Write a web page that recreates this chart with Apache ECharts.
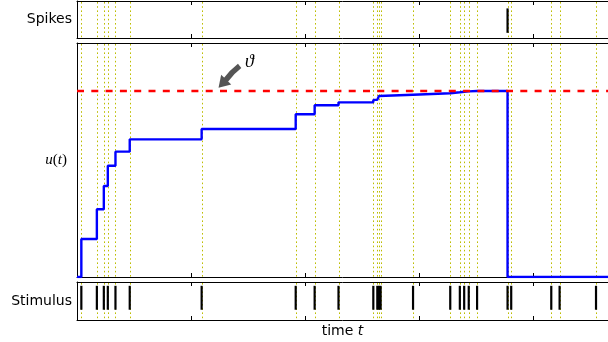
<!DOCTYPE html>
<html><head><meta charset="utf-8">
<script src="https://cdn.jsdelivr.net/npm/echarts/dist/echarts.min.js"></script>
<style>html,body{margin:0;padding:0;background:#fff}#c{width:608px;height:342px}</style>
</head><body><div id="c"></div>
<script>
// ---- data ----
const stimulusTimes = [0.038, 0.174, 0.235, 0.270, 0.337, 0.462, 1.092, 1.916, 2.082, 2.291,
  2.596, 2.631, 2.645, 2.660, 2.944, 3.270, 3.354, 3.392, 3.432, 3.505, 3.772, 3.804,
  4.155, 4.228, 4.547];
const spikeTimes = [3.772];
const potentialTimes = [0, 0.038, 0.174, 0.235, 0.270, 0.337, 0.462, 1.092, 1.916, 2.082, 2.291,
  2.596, 2.631, 2.645, 2.660, 2.944, 3.270, 3.354, 3.392, 3.432, 3.505, 3.772, 4.652];
const potentialValues = [0, 0.204, 0.364, 0.489, 0.598, 0.674, 0.740, 0.796, 0.875, 0.923, 0.939,
  0.952, 0.961, 0.973, 0.980, 0.988, 0.993, 0.996, 0.998, 1.0, 1.0, 0, 0];
const threshold = 1.0;
const timeRange = [0, 4.652];
const potentialRange = [0, 1.258];
const panelLabels = ['Spikes', 'u(t)', 'Stimulus'];
const timeLabel = 'time t';
const thresholdSymbol = 'ϑ';

// ---- layout / style ----
const L = 77, W = 534;
const grids = [
  {left: L, top: 1, width: W, height: 37},
  {left: L, top: 43, width: W, height: 234},
  {left: L, top: 282, width: W, height: 38}
];
const spikeBar = [0.14, 0.8];
const stimBar = [0.27, 0.9];
const YELLOW = '#bdbd00';
const FONT = 'DejaVu Sans';

function xAxes(gi) {
  const base = {
    type: 'value', gridIndex: gi, min: timeRange[0], max: timeRange[1], interval: 1,
    axisLine: {show: true, onZero: false, lineStyle: {color: '#000', width: 1}},
    axisTick: {show: true, inside: true, length: 4, lineStyle: {color: '#000', width: 1}},
    axisLabel: {show: false}, splitLine: {show: false}
  };
  return [Object.assign({position: 'bottom'}, base), Object.assign({position: 'top'}, base)];
}
const xAxis = [].concat(xAxes(0), xAxes(1), xAxes(2));
xAxis[4].name = '{n|time }{i|t}';
xAxis[4].nameLocation = 'middle';
xAxis[4].nameGap = 4;
xAxis[4].nameTextStyle = {
  rich: {
    n: {fontFamily: FONT, fontSize: 14, color: '#000'},
    i: {fontFamily: FONT, fontStyle: 'italic', fontSize: 14, color: '#000'}
  }
};

function yAxisFor(gi, range, name, gap, nts) {
  return {
    type: 'value', gridIndex: gi, min: range[0], max: range[1], position: 'left',
    axisLine: {show: true, onZero: false, lineStyle: {color: '#000', width: 1}},
    axisTick: {show: false}, axisLabel: {show: false}, splitLine: {show: false},
    name: name, nameLocation: 'middle', nameRotate: 0, nameGap: gap, nameTextStyle: nts
  };
}
const plainName = {fontFamily: FONT, fontSize: 14, color: '#000'};
const yAxis = [
  yAxisFor(0, [0, 1], panelLabels[0], 5, plainName),
  yAxisFor(1, potentialRange, '{i|u}{r|(}{i|t}{r|)}', 10, {
    rich: {
      i: {fontFamily: 'Liberation Serif', fontStyle: 'italic', fontSize: 15, color: '#000'},
      r: {fontFamily: 'Liberation Serif', fontSize: 15, color: '#000'}
    }
  }),
  yAxisFor(2, [0, 1], panelLabels[2], 5, plainName)
];

function dottedSeries(xi, yi) {
  return {
    type: 'custom', xAxisIndex: xi, yAxisIndex: yi, z: 1, silent: true,
    data: stimulusTimes.map(t => [t]),
    encode: {x: 0},
    renderItem: function (params, api) {
      const cs = params.coordSys;
      const x = Math.round(api.coord([api.value(0), 0])[0]) + 0.5;
      return {type: 'line', shape: {x1: x, y1: cs.y + 1, x2: x, y2: cs.y + cs.height},
        style: {stroke: YELLOW, lineWidth: 1, lineDash: [1.6, 2.6]}};
    }
  };
}
function eventSeries(times, xi, yi, bar) {
  return {
    type: 'custom', xAxisIndex: xi, yAxisIndex: yi, z: 5, silent: true,
    data: times.map(t => [t]),
    encode: {x: 0},
    renderItem: function (params, api) {
      const a = api.coord([api.value(0), bar[0]]);
      const b = api.coord([api.value(0), bar[1]]);
      return {type: 'line', shape: {x1: a[0], y1: a[1], x2: b[0], y2: b[1]},
        style: {stroke: '#000', lineWidth: 2.2}};
    }
  };
}

const option = {
  animation: false,
  backgroundColor: '#fff',
  grid: grids,
  xAxis: xAxis,
  yAxis: yAxis,
  series: [
    dottedSeries(0, 0), dottedSeries(2, 1), dottedSeries(4, 2),
    eventSeries(spikeTimes, 0, 0, spikeBar),
    eventSeries(stimulusTimes, 4, 2, stimBar),
    {
      type: 'line', xAxisIndex: 2, yAxisIndex: 1, step: 'end', z: 3,
      data: potentialTimes.map((t, i) => [t, potentialValues[i]]),
      symbol: 'none', lineStyle: {color: '#0000ff', width: 2.4}, silent: true
    },
    {
      type: 'line', xAxisIndex: 2, yAxisIndex: 1, z: 4,
      data: [[timeRange[0], threshold], [timeRange[1], threshold]],
      symbol: 'none', lineStyle: {color: '#ff0000', width: 2.4, type: [7, 7.3]}, silent: true
    }
  ]
};

const chart = echarts.init(document.getElementById('c'), null, {renderer: 'canvas'});
chart.setOption(option);

// annotation arrow pointing at the threshold line
const arrowTail = chart.convertToPixel({xAxisIndex: 2, yAxisIndex: 1}, [1.425, threshold + 0.135]);
const arrowTip = chart.convertToPixel({xAxisIndex: 2, yAxisIndex: 1}, [1.240, threshold + 0.018]);
const labelPos = chart.convertToPixel({xAxisIndex: 2, yAxisIndex: 1}, [1.51, threshold + 0.155]);
(function () {
  const dx = arrowTip[0] - arrowTail[0], dy = arrowTip[1] - arrowTail[1];
  const len = Math.hypot(dx, dy);
  const ux = dx / len, uy = dy / len, nx = -uy, ny = ux;
  const hl = 11, hw = 7, sw = 2.8;
  const bx = arrowTip[0] - ux * hl, by = arrowTip[1] - uy * hl;
  const mx = (arrowTail[0] + bx) / 2 + nx * 1.5, my = (arrowTail[1] + by) / 2 + ny * 1.5;
  chart.setOption({
    graphic: [
      {type: 'bezierCurve', silent: true, z: 10,
        shape: {x1: arrowTail[0], y1: arrowTail[1], x2: bx + ux * 1, y2: by + uy * 1, cpx1: mx, cpy1: my},
        style: {stroke: '#555555', lineWidth: sw * 2, fill: null}},
      {type: 'polygon', silent: true, z: 10,
        shape: {points: [[arrowTip[0], arrowTip[1]], [bx + nx * hw, by + ny * hw], [bx - nx * hw, by - ny * hw]]},
        style: {fill: '#555555'}},
      {type: 'text', silent: true, z: 10, x: labelPos[0], y: labelPos[1],
        style: {text: thresholdSymbol, font: 'italic 18px "Liberation Serif"', fill: '#000',
          align: 'center', verticalAlign: 'middle'}}
    ]
  });
})();
</script>
</body></html>
